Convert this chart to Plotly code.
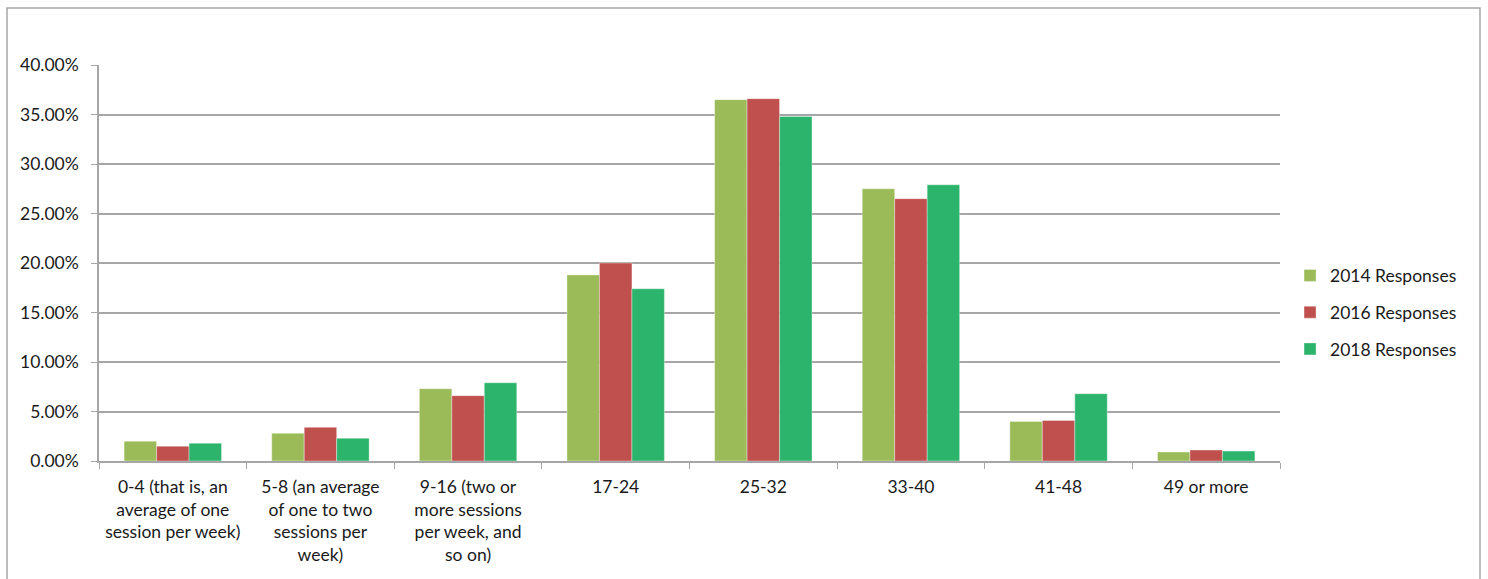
import plotly.graph_objects as go

categories = [
    "0-4 (that is, an<br>average of one<br>session per week)",
    "5-8 (an average<br>of one to two<br>sessions per<br>week)",
    "9-16 (two or<br>more sessions<br>per week, and<br>so on)",
    "17-24",
    "25-32",
    "33-40",
    "41-48",
    "49 or more",
]

responses_2014 = [0.020, 0.028, 0.073, 0.188, 0.365, 0.275, 0.040, 0.009]
responses_2016 = [0.015, 0.034, 0.066, 0.200, 0.366, 0.265, 0.041, 0.011]
responses_2018 = [0.018, 0.023, 0.079, 0.174, 0.348, 0.279, 0.068, 0.010]

series = [
    ("2014 Responses", responses_2014, "#9BBB59"),
    ("2016 Responses", responses_2016, "#C0504D"),
    ("2018 Responses", responses_2018, "#2DB46C"),
]

FONT = "Lato, 'Open Sans', sans-serif"
TEXT = "#1a1a1a"
FS = 17.5

fig = go.Figure()
for i, (name, vals, color) in enumerate(series):
    fig.add_trace(go.Bar(
        x=categories, y=vals, name=name,
        marker=dict(color=color, line=dict(color="rgba(255,255,255,0.6)", width=0.6)),
        legendgroup=str(i),
    ))

fig.update_layout(
    width=1488, height=579,
    margin=dict(l=99, r=208, t=65, b=118, autoexpand=False),
    paper_bgcolor="white", plot_bgcolor="white",
    barmode="group", bargap=0.34, bargroupgap=0,
    font=dict(family=FONT, size=FS, color=TEXT),
    showlegend=True,
    legend=dict(
        x=1.0085, y=0.375, xanchor="left", yanchor="middle",
        traceorder="grouped", tracegroupgap=11,
        font=dict(family=FONT, size=FS, color=TEXT),
        itemwidth=30,
    ),
    xaxis=dict(
        type="category", showgrid=False, automargin=False,
        showline=True, linecolor="#A6A6A6", linewidth=1.5,
        ticks="outside", tickson="boundaries", ticklen=6, tickcolor="#A6A6A6",
        tickfont=dict(family=FONT, size=FS, color=TEXT),
        tickangle=0, ticklabelstandoff=9,
    ),
    yaxis=dict(
        range=[0, 0.40], dtick=0.05, tickformat=".2%", automargin=False,
        showgrid=True, gridcolor="#A6A6A6", gridwidth=1.5,
        showline=True, linecolor="#A6A6A6", linewidth=1.5,
        ticks="outside", ticklen=6, tickcolor="#A6A6A6",
        tickfont=dict(family=FONT, size=FS, color=TEXT),
        ticklabelstandoff=9,
        zeroline=False,
    ),
    shapes=[dict(
        type="rect", xref="paper", yref="paper",
        x0=(7 - 99) / 1181, x1=(1480 - 99) / 1181,
        y0=(461 - 600) / 396, y1=(461 - 8) / 396,
        line=dict(color="#A6A6A6", width=1.5), fillcolor="rgba(0,0,0,0)",
        layer="below",
    )],
)

fig.write_html("out.html")
